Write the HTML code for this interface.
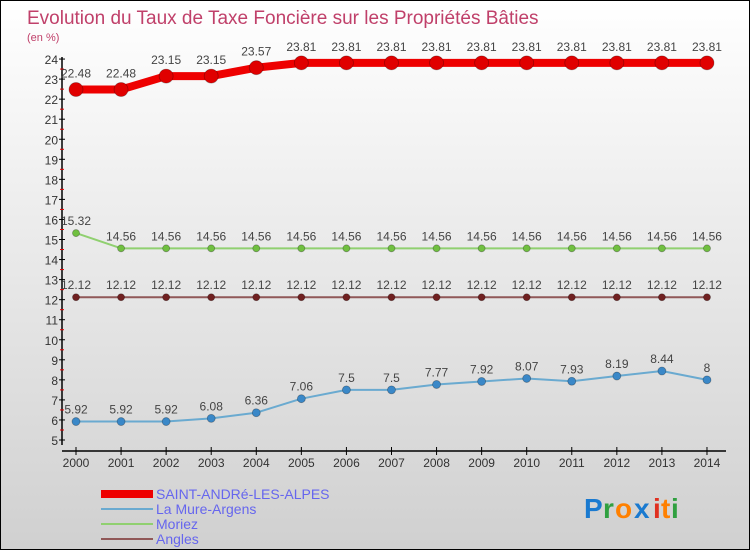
<!DOCTYPE html>
<html><head><meta charset="utf-8"><style>
body{margin:0;padding:0}
#c{width:750px;height:550px;position:relative;box-sizing:border-box;border:1px solid #000;background:linear-gradient(#ffffff,#d0d0d0);overflow:hidden;font-family:"Liberation Sans",sans-serif}
</style></head><body>
<div id="c">
<svg id="s" width="750" height="550" style="position:absolute;left:0;top:0">
<text x="26" y="23" font-size="19" fill="#c0406a">Evolution du Taux de Taxe Foncière sur les Propriétés Bâties</text>
<text x="26" y="40" font-size="11" fill="#c0406a">(en %)</text>
<g id="axes"></g><g id="series"></g>
<g>
<rect x="100" y="489" width="52" height="8" fill="#ee0000"/>
<text x="155" y="498" font-size="14" fill="#6666ee">SAINT-ANDRé-LES-ALPES</text>
<rect x="100" y="507" width="52" height="2" fill="#6aaad0"/>
<text x="155" y="513" font-size="14" fill="#6666ee">La Mure-Argens</text>
<rect x="100" y="522" width="52" height="2" fill="#90d070"/>
<text x="155" y="528" font-size="14" fill="#6666ee">Moriez</text>
<rect x="100" y="537" width="52" height="2" fill="#905858"/>
<text x="155" y="543" font-size="14" fill="#6666ee">Angles</text>
</g>
<g font-size="28" font-weight="bold">
<text x="583" y="517" fill="#1a7ad0">P</text><text x="602" y="517" fill="#30a040">r</text><text x="614" y="517" fill="#ff8000">o</text><text x="633" y="517" fill="#1a7ad0">x</text><text x="652" y="517" fill="#e03020">i</text><text x="660" y="517" fill="#ff8000">t</text><text x="670" y="517" fill="#30a040">i</text>
</g>
</svg>
</div>
<script>
const years=[2000,2001,2002,2003,2004,2005,2006,2007,2008,2009,2010,2011,2012,2013,2014];
const saint=[22.48,22.48,23.15,23.15,23.57,23.81,23.81,23.81,23.81,23.81,23.81,23.81,23.81,23.81,23.81];
const mure=[5.92,5.92,5.92,6.08,6.36,7.06,7.5,7.5,7.77,7.92,8.07,7.93,8.19,8.44,8];
const moriez=[15.32,14.56,14.56,14.56,14.56,14.56,14.56,14.56,14.56,14.56,14.56,14.56,14.56,14.56,14.56];
const angles=[12.12,12.12,12.12,12.12,12.12,12.12,12.12,12.12,12.12,12.12,12.12,12.12,12.12,12.12,12.12];
const yTicks=[5,6,7,8,9,10,11,12,13,14,15,16,17,18,19,20,21,22,23,24];
const NS="http://www.w3.org/2000/svg";
const X=i=>75+i*45.07, Y=v=>439-(v-5)*20.05;
function mk(t,a,p){const e=document.createElementNS(NS,t);for(const k in a)e.setAttribute(k,a[k]);p.appendChild(e);return e;}
const ax=document.getElementById('axes'), sr=document.getElementById('series');
let yl=mk('line',{x1:61,y1:56,x2:61,y2:444,stroke:'#000','stroke-width':1.5},ax);


let xl=mk('line',{x1:61,y1:450,x2:725,y2:450,stroke:'#000','stroke-width':1.5},ax);


yTicks.forEach(v=>{
 mk('line',{x1:58,y1:Y(v),x2:64,y2:Y(v),stroke:'#000'},ax);
 if(v<24)mk('line',{x1:59,y1:Y(v+0.5),x2:63,y2:Y(v+0.5),stroke:'#e00000'},ax);
 const t=mk('text',{x:57,y:Y(v)+5,'font-size':12,'text-anchor':'end',fill:'#333'},ax);t.textContent=v;
 
 
});
years.forEach((yr,i)=>{
 mk('line',{x1:X(i),y1:446,x2:X(i),y2:454,stroke:'#000'},ax);
 const t=mk('text',{x:X(i),y:466,'font-size':12,'text-anchor':'middle',fill:'#333'},ax);t.textContent=yr;
 
 
});
function series(d,name,col,w,r,dot,lab){
 const g=mk('g',{},sr);
 
 
 mk('polyline',{points:d.map((v,i)=>X(i)+','+Y(v)).join(' '),fill:'none',stroke:col,'stroke-width':w,'stroke-linejoin':'round'},g);
 d.forEach((v,i)=>{
  const c=mk('circle',{cx:X(i),cy:Y(v),r:r,fill:dot,stroke:'rgba(0,0,0,0.3)','stroke-width':0.8},g);
  
  
  const t=mk('text',{x:X(i),y:Y(v)-(lab||8),'font-size':12,'text-anchor':'middle',fill:'#444'},g);t.textContent=v;
 });
}
series(angles,'angles','#905858',2,3.5,'#702020');
series(moriez,'moriez','#90d070',2,3.5,'#70c040');
series(mure,'la-mure','#6aaad0',2,4,'#3a88c8');
series(saint,'saint-andre','#ee0000',8,7,'#e00000',12);
</script>
</body></html>
